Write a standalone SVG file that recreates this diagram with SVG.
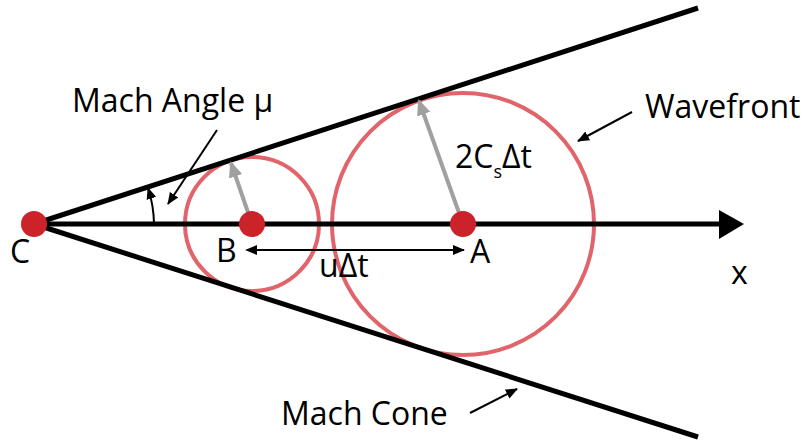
<svg xmlns="http://www.w3.org/2000/svg" width="803" height="445" viewBox="0 0 803 445">
<defs>
<marker id="ah" markerWidth="12" markerHeight="12" refX="11" refY="6" orient="auto" markerUnits="userSpaceOnUse" viewBox="0 0 12 12"><path d="M0,1 L12,6 L0,11 z" fill="#000"/></marker>
<marker id="ahs" markerWidth="12" markerHeight="12" refX="1" refY="6" orient="auto-start-reverse" markerUnits="userSpaceOnUse" viewBox="0 0 12 12"><path d="M0,1 L12,6 L0,11 z" fill="#000"/></marker>
<marker id="ahg" markerWidth="16" markerHeight="16" refX="14" refY="8" orient="auto" markerUnits="userSpaceOnUse" viewBox="0 0 16 16"><path d="M0,1 L16,8 L0,15 z" fill="#a0a0a0"/></marker>
</defs>
<style>
text{font-family:"Open Sans","Liberation Sans",sans-serif;font-size:32px;fill:#000}
.wave{fill:none;stroke:#e0646a;stroke-width:4}
.dot{fill:#cc2229}
.thick{stroke:#000;stroke-width:5;fill:none}
.thin{stroke:#000;stroke-width:2;fill:none}
.gray{stroke:#a0a0a0;stroke-width:4;fill:none}
</style>
<rect width="803" height="445" fill="#fff"/>
<g id="circles">
<circle class="wave" cx="252" cy="224" r="67"/>
<circle class="wave" cx="463" cy="224" r="131"/>
</g>
<g id="connectors">
<line class="thick" x1="34" y1="224" x2="698" y2="8"/>
<line class="thick" x1="34" y1="224" x2="698" y2="437"/>
<line class="thick" x1="34" y1="224" x2="722" y2="224"/>
<polygon points="719,210 744,224 719,239" fill="#000"/>
<line class="gray" x1="252" y1="224" x2="231" y2="163" marker-end="url(#ahg)"/>
<line class="gray" x1="463" y1="224" x2="419" y2="101" marker-end="url(#ahg)"/>
<line class="thin" x1="217" y1="130" x2="168" y2="204" marker-end="url(#ah)"/>
<path class="thin" d="M154,224 A120,120 0 0 0 148,188" marker-end="url(#ah)"/>
<line class="thin" x1="632" y1="112" x2="578" y2="141" marker-end="url(#ah)"/>
<line class="thin" x1="470" y1="413" x2="517" y2="389" marker-end="url(#ah)"/>
<line class="thin" x1="256" y1="250" x2="464" y2="250" marker-start="url(#ahs)" marker-end="url(#ah)"/>
</g>
<g id="C"><circle class="dot" cx="34" cy="224" r="13"/><text x="10" y="263">C</text></g>
<g id="B"><circle class="dot" cx="252" cy="224" r="13"/><text x="216" y="262">B</text></g>
<g id="A"><circle class="dot" cx="463" cy="224" r="13"/><text x="470" y="263">A</text></g>
<g id="labels">
<text x="72" y="112">Mach Angle μ</text>
<text x="645" y="118">Wavefront</text>
<text x="281" y="425">Mach Cone</text>
<text x="319" y="277">uΔt</text>
<text x="731" y="284">x</text>
<text x="455" y="168">2C<tspan font-size="18" dy="10">s</tspan><tspan dy="-10">Δt</tspan></text>
</g>
</svg>
